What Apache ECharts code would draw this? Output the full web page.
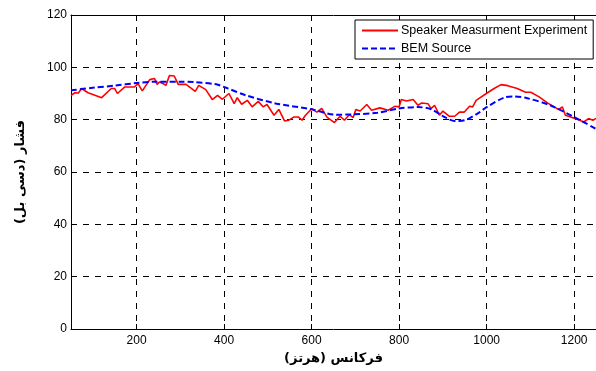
<!DOCTYPE html>
<html><head><meta charset="utf-8">
<script src="https://cdn.jsdelivr.net/npm/echarts@6/dist/echarts.min.js"></script>
<style>html,body{margin:0;padding:0;background:#fff}#c{width:596px;height:371px}</style>
</head><body><div id="c"></div>
<script>
const xTicks = [200, 400, 600, 800, 1000, 1200];
const measFreq = [50,59,67,74,89,120,142,150,156,173,195,203,213,230,241,247,252,260,267,275,286,295,313,334,342,358,373,385,396,411,423,430,440,453,464,478,489,498,514,525,538,548,559,570,578,586,600,612,623,635,652,665,675,686,695,701,711,726,737,756,775,790,800,805,817,832,843,852,866,873,881,892,900,915,927,938,949,961,968,976,1002,1017,1033,1048,1070,1089,1101,1120,1139,1154,1165,1173,1180,1192,1203,1222,1233,1243,1250];
const measVals = [89.3,90.3,90.2,91.9,90.3,88.4,91.9,91.9,90,92.5,92.5,93.8,91,95.3,95.7,93.5,94.4,93.8,93.1,96.9,96.7,93.5,93.5,90.8,93.1,91.5,87.7,89.3,87.8,90,86.1,88.4,85.9,87.4,84.9,87,84.9,85.8,81.7,83.9,79.5,79.8,81,81,79.8,81.7,84.2,82.9,84.3,81,78.9,81.3,79.8,81.9,80.8,83.9,83.3,85.8,83.6,84.5,83.6,85.1,84.9,87.7,87.1,87.7,85.5,86.4,86.1,84.2,85.5,81.7,83.3,81.3,81.3,82.9,82.9,85.1,84.9,87.4,90.3,91.9,93.4,93,91.9,90.5,90.5,88.7,86.4,84.9,83.9,84.9,81.7,81,80.4,79.1,80.4,79.8,80.5];
const bemFreq = [50,100,150,200,245,300,330,382,400,450,518,600,655,691,750,800,843,873,904,927,950,980,1000,1041,1064,1093,1145,1200,1250];
const bemVals = [91.2,92.2,93,94,94.5,94.5,94.4,93.5,92.5,89.3,86.2,84,81.9,82,82.6,84.3,84.8,84,81,79.5,79.8,82.4,84.8,88.5,88.9,88.2,85.5,81,76.5];
const seriesNames = ['Speaker Measurment Experiment', 'BEM Source'];
const xName = 'فرکانس (هرتز)';
const yName = 'فشار (دسی بل)';

const zip = (a, b) => a.map((v, i) => [v, b[i]]);
const chart = echarts.init(document.getElementById('c'), null, {renderer: 'canvas'});
const font = 'Liberation Sans, Arial, sans-serif';
chart.setOption({
  animation: false,
  backgroundColor: '#fff',
  grid: {left: 71, top: 15, width: 528, height: 314, containLabel: false},
  legend: {
    orient: 'vertical', left: 355, top: 20,
    borderColor: '#000', borderWidth: 1, backgroundColor: '#fff',
    padding: [4, 6, 4, 6], itemGap: 5, itemWidth: 36, itemHeight: 14,
    itemStyle: {opacity: 0},
    textStyle: {fontFamily: font, fontSize: 12.5, color: '#000', padding: [0, 0, 0, -2]},
    data: seriesNames
  },
  xAxis: [{
    type: 'value', min: 50, max: 1250, position: 'bottom',
    name: xName, nameLocation: 'middle', nameGap: 15,
    nameTextStyle: {fontFamily: 'DejaVu Sans', fontWeight: 'bold', fontSize: 13, color: '#000'},
    axisLine: {show: true, lineStyle: {color: '#000', width: 1}},
    axisTick: {show: true, inside: true, length: 5, customValues: xTicks, lineStyle: {color: '#000'}},
    axisLabel: {customValues: xTicks, fontFamily: font, fontSize: 12, color: '#000', margin: 6, formatter: v => String(v)},
    splitLine: {show: true, lineStyle: {color: '#000', type: [6, 6], width: 1}}
  }, {
    type: 'value', min: 50, max: 1250, position: 'top',
    axisLine: {show: true, onZero: false, lineStyle: {color: '#000', width: 1}},
    axisTick: {show: true, inside: true, length: 5, customValues: xTicks, lineStyle: {color: '#000'}},
    axisLabel: {show: false}, splitLine: {show: false}
  }],
  yAxis: {
    type: 'value', min: 0, max: 120, interval: 20,
    name: yName, nameLocation: 'middle', nameGap: 44,
    nameTextStyle: {fontFamily: 'DejaVu Sans', fontWeight: 'bold', fontSize: 13, color: '#000'},
    axisLine: {show: true, lineStyle: {color: '#000', width: 1}},
    axisTick: {show: true, inside: true, length: 5, lineStyle: {color: '#000'}},
    axisLabel: {fontFamily: font, fontSize: 12, color: '#000', margin: 4},
    splitLine: {show: true, lineStyle: {color: '#000', type: [6, 6], width: 1}}
  },
  series: [{
    name: seriesNames[0], type: 'line', data: zip(measFreq, measVals),
    symbol: 'none', lineStyle: {color: '#ff0000', width: 1.6}, itemStyle: {color: '#ff0000'}, z: 3
  }, {
    name: seriesNames[1], type: 'line', data: zip(bemFreq, bemVals), smooth: 0.3,
    symbol: 'none', lineStyle: {color: '#0000ff', width: 2, type: [6, 3]}, itemStyle: {color: '#0000ff'}, z: 4
  }]
});
</script></body></html>
